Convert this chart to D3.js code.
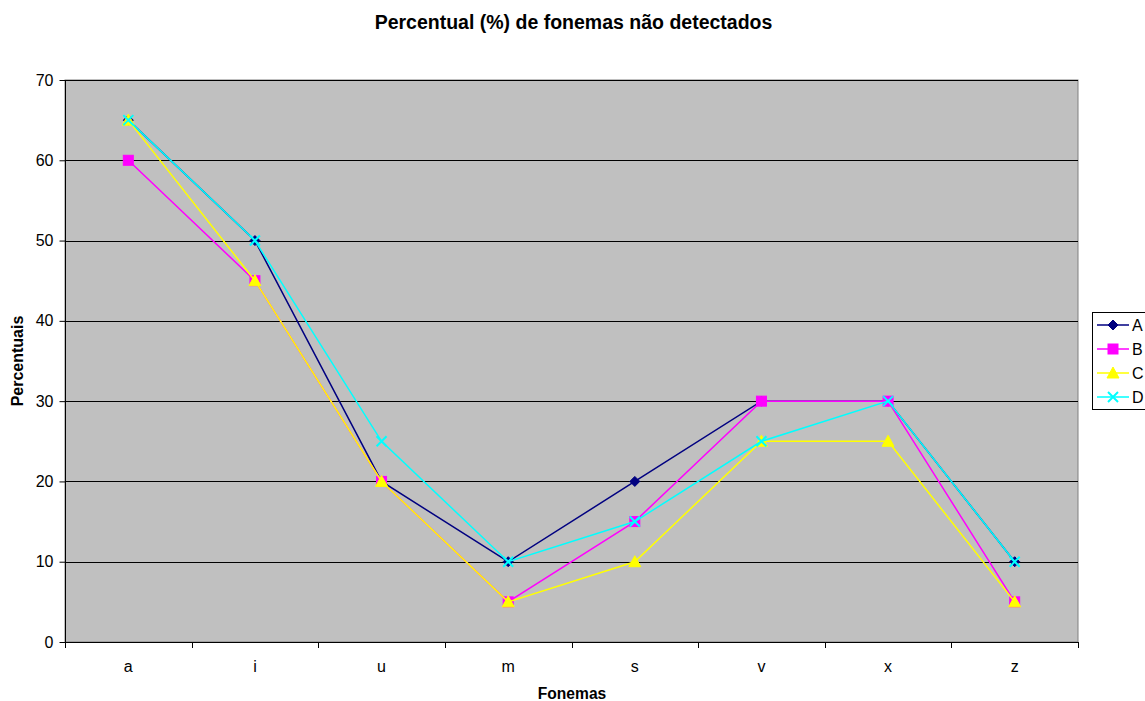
<!DOCTYPE html>
<html><head><meta charset="utf-8">
<script src="https://cdn.jsdelivr.net/npm/d3@7/dist/d3.min.js"></script>
<style>body{margin:0;background:#fff;}svg{display:block;font-family:Arial,"Liberation Sans",sans-serif;}</style>
</head><body><svg id="c" width="1145" height="701"></svg>
<script>
const categories = ["a","i","u","m","s","v","x","z"];
const seriesA = [65,50,20,10,20,30,30,10];
const seriesB = [60,45,20,5,15,30,30,5];
const seriesC = [65,45,20,5,10,25,25,5];
const seriesD = [65,50,25,10,15,25,30,10];
const seriesNames = ["A","B","C","D"];
const yTicks = [0,10,20,30,40,50,60,70];

const series = [
  {name:"A", values:seriesA, color:"#000080", marker:"diamond"},
  {name:"B", values:seriesB, color:"#FF00FF", marker:"square"},
  {name:"C", values:seriesC, color:"#FFFF00", marker:"triangle"},
  {name:"D", values:seriesD, color:"#00FFFF", marker:"x"}
];

const svg = d3.select("#c");
const L=65, R=1078, T=80, B=642;
const x = d3.scaleBand().domain(categories).range([L,R]);
const y = d3.scaleLinear().domain([0,70]).range([B,T]);
const FF = "Arial,'Liberation Sans',sans-serif";

svg.append("rect").attr("x",L).attr("y",T).attr("width",R-L).attr("height",B-T)
  .attr("fill","#C0C0C0").attr("stroke","#808080").attr("stroke-width",1);

// gridlines
svg.append("g").selectAll("line").data(yTicks.filter(d=>d>0)).join("line")
  .attr("x1",L).attr("x2",R).attr("y1",d=>Math.round(y(d))+0.5).attr("y2",d=>Math.round(y(d))+0.5)
  .attr("stroke","#000").attr("stroke-width",1);

// y axis
const ya = svg.append("g").attr("transform",`translate(${L+0.5},0)`)
  .call(d3.axisLeft(y).tickValues(yTicks).tickSize(6).tickPadding(6));
ya.select(".domain").attr("stroke","#000").attr("d",`M0,${B}V${T}`);
ya.selectAll("text").attr("font-size",16).attr("fill","#000").attr("font-family",FF);
ya.selectAll("line").attr("stroke","#000");

// x axis
const xa = svg.append("g").attr("transform",`translate(0,${B+0.5})`)
  .call(d3.axisBottom(x).tickSize(0).tickPadding(18));
xa.select(".domain").attr("stroke","#000").attr("d",`M${L},0H${R}`);
xa.selectAll("text").attr("font-size",16).attr("fill","#000").attr("font-family",FF);
const bounds = categories.map(c=>x(c)).concat([R]);
svg.append("g").selectAll("line").data(bounds).join("line")
  .attr("x1",d=>Math.round(d)+0.5).attr("x2",d=>Math.round(d)+0.5).attr("y1",B).attr("y2",B+6)
  .attr("stroke","#000");

function drawMarker(g, type, color, cx, cy){
  if(type==="diamond"){
    g.append("path").attr("d",`M${cx},${cy-5}L${cx+5},${cy}L${cx},${cy+5}L${cx-5},${cy}Z`).attr("fill",color).attr("stroke",color);
  } else if(type==="square"){
    g.append("rect").attr("x",cx-5).attr("y",cy-5).attr("width",10).attr("height",10).attr("fill",color).attr("stroke",color);
  } else if(type==="triangle"){
    g.append("path").attr("d",`M${cx},${cy-6}L${cx+6},${cy+5}L${cx-6},${cy+5}Z`).attr("fill",color).attr("stroke",color);
  } else {
    g.append("path").attr("d",`M${cx-5},${cy-5}L${cx+5},${cy+5}M${cx+5},${cy-5}L${cx-5},${cy+5}`).attr("stroke",color).attr("stroke-width",2).attr("fill","none");
  }
}

const line = d3.line().x((d,i)=>x(categories[i])+x.bandwidth()/2).y(d=>y(d));
series.forEach(s=>{
  const g = svg.append("g");
  g.append("path").attr("d",line(s.values)).attr("fill","none").attr("stroke",s.color).attr("stroke-width",1.5);
  s.values.forEach((v,i)=>drawMarker(g,s.marker,s.color,x(categories[i])+x.bandwidth()/2,y(v)));
});

// title
svg.append("text").attr("x",573.5).attr("y",29).attr("text-anchor","middle")
  .attr("font-size",19.5).attr("font-weight","bold").text("Percentual (%) de fonemas não detectados");
svg.append("text").attr("x",572).attr("y",699).attr("text-anchor","middle")
  .attr("font-size",15.6).attr("font-weight","bold").text("Fonemas");
svg.append("text").attr("transform","translate(23,361) rotate(-90)").attr("text-anchor","middle")
  .attr("font-size",16).attr("font-weight","bold").text("Percentuais");

// legend
const lg = svg.append("g");
lg.append("rect").attr("x",1092.5).attr("y",312.5).attr("width",60).attr("height",97).attr("fill","#fff").attr("stroke","#000");
series.forEach((s,i)=>{
  const ly = 325 + i*24;
  lg.append("line").attr("x1",1097).attr("x2",1129).attr("y1",ly).attr("y2",ly).attr("stroke",s.color).attr("stroke-width",1.5);
  drawMarker(lg,s.marker,s.color,1113,ly);
  lg.append("text").attr("x",1132).attr("y",ly+6).attr("font-size",16).text(seriesNames[i]);
});
</script></body></html>
